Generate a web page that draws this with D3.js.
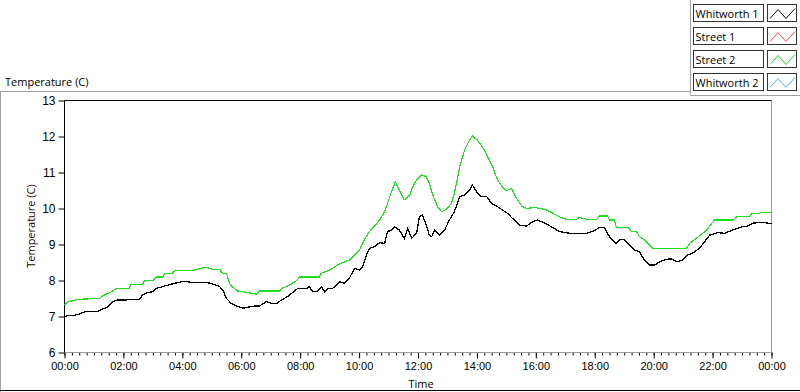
<!DOCTYPE html>
<html>
<head>
<meta charset="utf-8">
<script src="https://cdn.jsdelivr.net/npm/d3@7"></script>
<style>
  body { margin: 0; background: #fff; }
  svg { display: block; font-family: 'Segoe UI', 'Open Sans', sans-serif; font-size: 11px; }
</style>
</head>
<body>
<div id="chart"></div>
<script>
// legend entries (only Whitworth 1 and Street 2 carry data in this view)
const seriesNames = ['Whitworth 1', 'Street 1', 'Street 2', 'Whitworth 2']
const seriesColors = ['#000000', '#ff4848', '#1ee01e', '#48b8ff']

// minutes after midnight / temperature (C)
const whitworth1Min = [0, 4, 16, 31, 41, 65, 71, 77, 88, 98, 108, 126, 132, 153, 159, 169, 179, 187, 200, 210, 224, 240, 248, 261, 289, 299, 316, 322, 330, 340, 350, 363, 371, 387, 397, 411, 422, 432, 442, 454, 464, 475, 493, 499, 505, 515, 523, 530, 536, 546, 554, 560, 570, 580, 591, 601, 607, 615, 621, 631, 642, 652, 658, 666, 672, 682, 692, 699, 707, 717, 723, 729, 737, 743, 748, 754, 764, 774, 784, 794, 805, 815, 825, 831, 839, 849, 860, 870, 882, 892, 902, 912, 927, 941, 953, 963, 978, 992, 1008, 1029, 1063, 1075, 1090, 1100, 1106, 1114, 1124, 1130, 1141, 1151, 1161, 1171, 1181, 1192, 1202, 1212, 1226, 1236, 1247, 1259, 1269, 1279, 1293, 1304, 1314, 1330, 1344, 1361, 1379, 1391, 1401, 1422, 1440]
const whitworth1Val = [6.98, 7.02, 7.02, 7.07, 7.13, 7.13, 7.16, 7.20, 7.27, 7.41, 7.46, 7.46, 7.48, 7.48, 7.60, 7.66, 7.69, 7.78, 7.83, 7.87, 7.92, 7.97, 7.97, 7.94, 7.94, 7.92, 7.83, 7.74, 7.50, 7.36, 7.29, 7.23, 7.25, 7.29, 7.29, 7.41, 7.36, 7.36, 7.46, 7.55, 7.66, 7.78, 7.78, 7.83, 7.69, 7.69, 7.83, 7.69, 7.78, 7.78, 7.87, 7.97, 7.92, 8.06, 8.34, 8.29, 8.38, 8.71, 8.89, 8.94, 9.05, 9.03, 9.36, 9.40, 9.49, 9.40, 9.17, 9.45, 9.17, 9.31, 9.77, 9.82, 9.54, 9.26, 9.22, 9.40, 9.26, 9.40, 9.68, 9.91, 10.33, 10.38, 10.51, 10.65, 10.47, 10.33, 10.33, 10.14, 10.05, 9.96, 9.87, 9.73, 9.54, 9.51, 9.63, 9.68, 9.60, 9.49, 9.36, 9.31, 9.31, 9.36, 9.47, 9.47, 9.31, 9.14, 9.03, 9.13, 9.13, 8.99, 8.85, 8.80, 8.57, 8.43, 8.43, 8.52, 8.59, 8.60, 8.52, 8.57, 8.71, 8.76, 8.89, 9.08, 9.26, 9.33, 9.31, 9.40, 9.49, 9.51, 9.59, 9.62, 9.57]

const street2Min = [0, 6, 31, 71, 75, 96, 106, 132, 136, 159, 163, 179, 187, 200, 204, 220, 224, 261, 269, 289, 301, 316, 322, 330, 336, 340, 352, 363, 391, 397, 438, 442, 458, 473, 479, 519, 523, 540, 560, 580, 591, 601, 611, 621, 631, 642, 652, 658, 666, 674, 682, 692, 703, 709, 717, 727, 737, 743, 750, 760, 768, 778, 788, 794, 805, 815, 825, 831, 841, 851, 862, 872, 882, 892, 900, 910, 921, 931, 941, 957, 982, 994, 1008, 1022, 1043, 1049, 1063, 1084, 1090, 1106, 1110, 1120, 1124, 1147, 1155, 1165, 1171, 1181, 1192, 1198, 1267, 1273, 1283, 1293, 1308, 1314, 1324, 1361, 1369, 1395, 1401, 1416, 1420, 1440]
const street2Val = [7.32, 7.41, 7.48, 7.50, 7.55, 7.69, 7.78, 7.78, 7.90, 7.90, 7.99, 7.99, 8.10, 8.10, 8.20, 8.20, 8.27, 8.27, 8.31, 8.37, 8.31, 8.31, 8.20, 8.20, 7.92, 7.85, 7.71, 7.69, 7.62, 7.71, 7.71, 7.78, 7.87, 8.00, 8.10, 8.10, 8.20, 8.29, 8.46, 8.57, 8.71, 8.85, 9.14, 9.36, 9.51, 9.68, 9.91, 10.14, 10.47, 10.74, 10.51, 10.24, 10.37, 10.60, 10.79, 10.93, 10.88, 10.70, 10.38, 10.05, 9.91, 9.98, 10.14, 10.42, 11.16, 11.63, 11.90, 12.01, 11.90, 11.72, 11.44, 11.16, 10.79, 10.60, 10.49, 10.56, 10.28, 10.07, 10.00, 10.03, 9.96, 9.87, 9.77, 9.70, 9.70, 9.75, 9.70, 9.70, 9.79, 9.79, 9.68, 9.68, 9.48, 9.48, 9.36, 9.36, 9.22, 9.13, 8.99, 8.89, 8.89, 9.03, 9.13, 9.24, 9.40, 9.51, 9.68, 9.68, 9.77, 9.77, 9.87, 9.87, 9.90, 9.90]

const yTicks = [6, 7, 8, 9, 10, 11, 12, 13]
const xTickLabels = ['00:00', '02:00', '04:00', '06:00', '08:00', '10:00', '12:00', '14:00', '16:00', '18:00', '20:00', '22:00', '00:00']

const W = 800
const H = 392

const svg = d3.select('#chart')
  .append('svg')
  .attr('width', W)
  .attr('height', H)

const x = d3.scaleLinear().domain([0, 1440]).range([64.5, 771.5])
const y = d3.scaleLinear().domain([6, 13]).range([352.5, 100.5])

// outer panel frame
svg.append('path').attr('d', 'M0.5,392V91.5H690').attr('fill', 'none').attr('stroke', '#a0a0a0')
svg.append('line').attr('x1', 0).attr('x2', W).attr('y1', 390.5).attr('y2', 390.5).attr('stroke', '#000')

// plot title
svg.append('text').attr('x', 5).attr('y', 86).attr('fill', '#000').text('Temperature (C)')

// y axis
const yAxis = svg.append('g')
  .attr('transform', 'translate(64.5,0)')
  .call(d3.axisLeft(y).tickValues(yTicks).tickSize(6).tickPadding(3).tickFormat(d3.format('d')))
yAxis.select('.domain').remove()
yAxis.selectAll('text').style('font-size', '12px').attr('fill', '#000')

// x axis: minor ticks every 15 min, labelled majors every 2 h
const xMinor = svg.append('g')
  .attr('transform', 'translate(0,352.5)')
  .call(d3.axisBottom(x).tickValues(d3.range(0, 1441, 15)).tickSize(3).tickFormat(''))
xMinor.select('.domain').remove()

const xAxis = svg.append('g')
  .attr('transform', 'translate(0,352.5)')
  .call(d3.axisBottom(x)
    .tickValues(d3.range(0, 1441, 120))
    .tickSize(6)
    .tickPadding(4)
    .tickFormat((d, i) => xTickLabels[i]))
xAxis.select('.domain').remove()
xAxis.selectAll('text').style('font-size', '11px').attr('fill', '#000')

// axis titles
svg.append('text')
  .attr('transform', 'translate(35,226) rotate(-90)')
  .attr('text-anchor', 'middle')
  .attr('fill', '#200')
  .text('Temperature (C)')

svg.append('text')
  .attr('x', 421)
  .attr('y', 388)
  .attr('text-anchor', 'middle')
  .attr('fill', '#000')
  .text('Time')

// plot frame: dark top/left, grey bottom/right
svg.append('path').attr('d', 'M772,352.5H64.5').attr('stroke', '#999').attr('fill', 'none')
svg.append('path').attr('d', 'M771.5,100.5V353').attr('stroke', '#999').attr('fill', 'none')
svg.append('path').attr('d', 'M64.5,352.5V100.5H771.5').attr('stroke', '#000').attr('fill', 'none')

// data lines
const line = d3.line()
  .x(d => x(d[0]))
  .y(d => y(d[1]))

const plotData = [
  { pts: d3.zip(street2Min, street2Val), color: seriesColors[2], width: 1.2 },
  { pts: d3.zip(whitworth1Min, whitworth1Val), color: seriesColors[0], width: 1.3 }
]

svg.append('g')
  .selectAll('path')
  .data(plotData)
  .enter()
  .append('path')
  .attr('d', d => line(d.pts))
  .attr('fill', 'none')
  .attr('stroke', d => d.color)
  .attr('stroke-width', d => d.width)
  .attr('shape-rendering', 'crispEdges')

// legend
svg.append('path').attr('d', 'M690.5,0V95.5H800').attr('fill', 'none').attr('stroke', '#a0a0a0')

const legend = svg.append('g')

seriesNames.forEach((name, i) => {
  const top = 4.5 + i * 23
  const row = legend.append('g').attr('transform', `translate(0,${top})`)

  row.append('rect')
    .attr('x', 693.5)
    .attr('width', 70)
    .attr('height', 17)
    .attr('fill', '#fff')
    .attr('stroke', '#333')

  row.append('text')
    .attr('x', 695.5)
    .attr('y', 13)
    .attr('fill', '#000')
    .text(name)

  row.append('rect')
    .attr('x', 767.5)
    .attr('width', 29)
    .attr('height', 17)
    .attr('fill', '#fff')
    .attr('stroke', '#333')

  row.append('path')
    .attr('d', 'M770,14L778,5L786,14L795,4')
    .attr('fill', 'none')
    .attr('stroke', seriesColors[i])
})
</script>
</body>
</html>
